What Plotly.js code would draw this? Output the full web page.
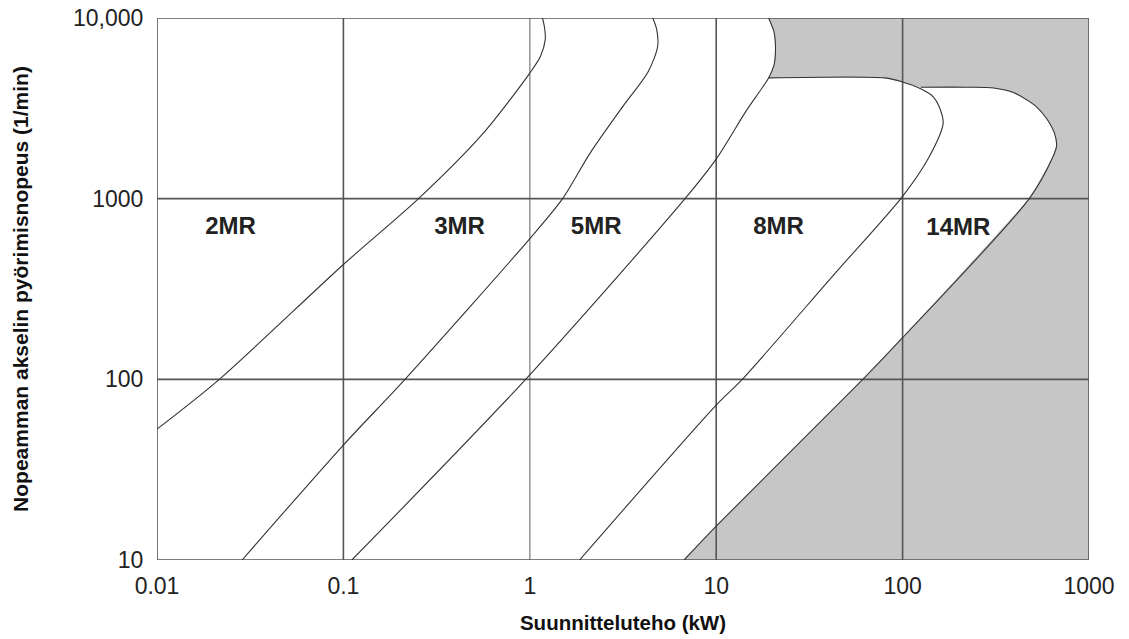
<!DOCTYPE html>
<html>
<head>
<meta charset="utf-8">
<script src="https://cdn.plot.ly/plotly-3.0.1.min.js"></script>
<style>html,body{margin:0;padding:0;background:#fff;}#chart{width:1129px;height:639px;}</style>
</head>
<body>
<div id="chart"></div>
<script>
// ---- axis ticks ----
const xTickVals = [0.01, 0.1, 1, 10, 100, 1000];
const xTickText = ['0.01', '0.1', '1', '10', '100', '1000'];
const yTickVals = [10, 100, 1000, 10000];
const yTickText = ['10', '100', '1000', '10,000'];

// ---- boundary curves (power kW, speed 1/min) ----
const mr2X = [0.01, 0.0216, 0.1, 0.253, 0.557, 1.0, 1.14, 1.21, 1.20, 1.17];
const mr2Y = [53, 100, 432, 1000, 2275, 4955, 6120, 7590, 8830, 10000];

const mr3X = [0.0286, 0.1, 0.214, 1.02, 1.50, 2.11, 3.18, 4.30, 4.85, 4.80, 4.57];
const mr3Y = [10, 43.3, 100, 615, 1000, 1793, 3275, 5010, 6950, 8600, 10000];

const mr5X = [0.111, 0.95, 6.80, 10.1, 14.4, 19.1, 20.4, 20.8, 20.4, 19.1];
const mr5Y = [10, 100, 1000, 1683, 3033, 4660, 5470, 6700, 8400, 10000];

const mr8X = [1.85, 10, 13.8, 43.4, 100, 138, 165, 157, 146, 125, 100, 80.2, 19.1];
const mr8Y = [10, 72, 100, 386, 1030, 1683, 2610, 3235, 3665, 4055, 4425, 4660, 4660];

const mr14X = [6.72, 10, 61.2, 100, 478, 637, 670, 653, 592, 521, 396, 308, 225, 125];
const mr14Y = [10, 15.4, 100, 170, 1000, 1683, 1960, 2300, 2780, 3235, 3855, 4100, 4140, 4140];

// ---- shaded (out of range) region outline ----
const shadeX = [19.1, 1000, 1000, 6.72, 10, 61.2, 100, 478, 637, 670, 653, 592, 521, 396, 308, 225, 125, 100, 80.2, 19.1, 20.4, 20.8, 20.4, 19.1];
const shadeY = [10000, 10000, 10, 10, 15.4, 100, 170, 1000, 1683, 1960, 2300, 2780, 3235, 3855, 4100, 4140, 4140, 4425, 4660, 4660, 5470, 6700, 8400, 10000];

// ---- region labels ----
const regionNames = ['2MR', '3MR', '5MR', '8MR', '14MR'];
const regionX = [0.0248, 0.42, 2.27, 21.6, 199];
const regionY = [690, 690, 690, 690, 680];

const FONT = 'Liberation Sans, Arial, Helvetica, sans-serif';
const traces = [];

traces.push({
  x: shadeX, y: shadeY, mode: 'lines', fill: 'toself',
  fillcolor: '#c6c6c6', line: {width: 0, color: 'rgba(0,0,0,0)'},
  hoverinfo: 'skip', showlegend: false
});

// grid lines (drawn above the shading)
xTickVals.forEach(v => {
  traces.push({
    x: [v, v], y: [yTickVals[0], yTickVals[yTickVals.length - 1]], mode: 'lines',
    line: {color: v === 1 ? '#9a9a9a' : '#555555', width: 1.6},
    hoverinfo: 'skip', showlegend: false
  });
});
yTickVals.forEach(v => {
  traces.push({
    x: [xTickVals[0], xTickVals[xTickVals.length - 1]], y: [v, v], mode: 'lines',
    line: {color: '#555555', width: 1.6},
    hoverinfo: 'skip', showlegend: false
  });
});

[[mr2X, mr2Y], [mr3X, mr3Y], [mr5X, mr5Y], [mr8X, mr8Y], [mr14X, mr14Y]].forEach(c => {
  traces.push({
    x: c[0], y: c[1], mode: 'lines',
    line: {color: '#333333', width: 1.1, shape: 'spline', smoothing: 0.8},
    hoverinfo: 'skip', showlegend: false
  });
});

traces.push({
  x: regionX, y: regionY, mode: 'text', text: regionNames.map(s => '<b>' + s + '</b>'),
  textposition: 'middle center',
  textfont: {family: FONT, size: 24, color: '#222'},
  hoverinfo: 'skip', showlegend: false
});

const layout = {
  width: 1129, height: 639,
  margin: {l: 157, r: 40, t: 18, b: 79},
  paper_bgcolor: '#ffffff', plot_bgcolor: '#ffffff',
  showlegend: false,
  font: {family: FONT, color: '#222'},
  xaxis: {
    type: 'log', range: [-2, 3], showgrid: false, zeroline: false, showline: false,
    tickvals: xTickVals, ticktext: xTickText,
    ticks: 'outside', ticklen: 5, tickcolor: 'rgba(0,0,0,0)',
    tickfont: {family: FONT, size: 23, color: '#222'},
    title: {text: '<b>Suunnitteluteho (kW)</b>', font: {family: FONT, size: 20.5, color: '#111'}, standoff: 18},
    automargin: false, fixedrange: true
  },
  yaxis: {
    type: 'log', range: [1, 4], showgrid: false, zeroline: false, showline: false,
    tickvals: yTickVals, ticktext: yTickText,
    ticks: 'outside', ticklen: 8, tickcolor: 'rgba(0,0,0,0)',
    tickfont: {family: FONT, size: 23, color: '#222'},
    title: {text: '<b>Nopeamman akselin pyörimisnopeus (1/min)</b>', font: {family: FONT, size: 21, color: '#111'}, standoff: 38},
    automargin: false, fixedrange: true
  }
};

Plotly.newPlot('chart', traces, layout, {displayModeBar: false, staticPlot: true});
</script>
</body>
</html>
